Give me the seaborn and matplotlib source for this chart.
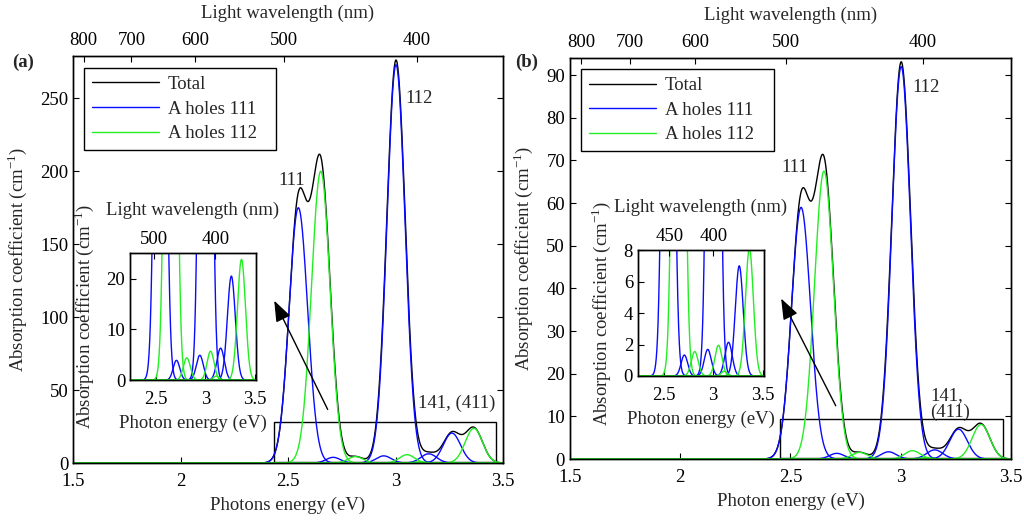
import numpy as np
import matplotlib
matplotlib.use('Agg')
import matplotlib.pyplot as plt
import matplotlib.patches as mpatches
import seaborn as sns

sns.set_style('ticks')
plt.rcParams['font.family'] = ['Liberation Serif', 'DejaVu Serif']
plt.rcParams['mathtext.fontset'] = 'custom'
plt.rcParams['mathtext.rm'] = 'Liberation Serif'
plt.rcParams['font.size'] = 13.5
plt.rcParams['xtick.direction'] = 'in'
plt.rcParams['ytick.direction'] = 'in'
plt.rcParams['xtick.major.size'] = 4
plt.rcParams['ytick.major.size'] = 4
plt.rcParams['axes.linewidth'] = 1.0
plt.rcParams['axes.edgecolor'] = 'black'
plt.rcParams['xtick.color'] = 'black'
plt.rcParams['ytick.color'] = 'black'

# single absorption bands: position (eV), width (eV), height (cm^-1)
blue_centers = [2.548, 3.002, 2.71, 2.945, 3.154, 3.262]
green_centers = [2.652, 2.814, 3.053, 3.11, 3.364]
blue_widths = [0.043, 0.042, 0.033, 0.035, 0.037, 0.040]
green_widths = [0.043, 0.035, 0.035, 0.030, 0.040]

blue_heights_a = [175, 273, 3.9, 4.9, 6.3, 20.5]
green_heights_a = [200, 4.4, 5.7, 0.8, 23.8]
blue_heights_b = [59, 92, 1.33, 1.69, 2.14, 7.0]
green_heights_b = [67.5, 1.55, 1.95, 0.3, 8.1]

wl_ticks = [800, 700, 600, 500, 400]
inset_wl_a = [500, 400]
inset_wl_b = [450, 400]
inset_wl_b_pos = [2.56, 3.0]

energy = np.linspace(1.5, 3.5, 2001)


def band(c, h, w):
    return h * np.exp(-(energy - c) ** 2 / (2 * w ** 2))


BLUE = '#0a0aff'
GREEN = '#22ee22'
ylab = 'Absorption coefficient (cm$^{-1}$)'

fig = plt.figure(figsize=(10.24, 5.2), dpi=100)

panels = [
    dict(rect=[0.0713, 0.1096, 0.42, 0.7827], inset=[0.127, 0.269, 0.123, 0.244],
         blue=blue_heights_a, green=green_heights_a, ymax=279, yticks=range(0, 251, 50),
         xlabel='Photons energy (eV)', leg=(0.0256, 0.0, 0.4465, 0.9705),
         inset_ylim=(0, 25), inset_yticks=[0, 10, 20],
         inset_top=[1240 / w for w in inset_wl_a], inset_top_lab=inset_wl_a,
         box=(2.435, 0.5, 1.032, 27.5), arrow=((2.43, 113), (2.69, 35)),
         t111=(2.519, 194), t112=(3.109, 250), t141=(3.286, 41, 'center', '141, (411)'),
         tag='(a)', tagx=0.012),
    dict(rect=[0.5566, 0.1173, 0.4307, 0.771], inset=[0.623, 0.277, 0.123, 0.242],
         blue=blue_heights_b, green=green_heights_b, ymax=94, yticks=range(0, 91, 10),
         xlabel='Photon energy (eV)', leg=(0.025, 0.0, 0.4376, 0.9726),
         inset_ylim=(0, 8), inset_yticks=[0, 2, 4, 6, 8],
         inset_top=inset_wl_b_pos, inset_top_lab=inset_wl_b,
         box=(2.452, 0.2, 1.012, 9.2), arrow=((2.452, 38.2), (2.711, 11.9)),
         t111=(2.52, 68.4), t112=(3.115, 87.1), t141=(3.133, 12.9, 'left', '141,\n(411)'),
         tag='(b)', tagx=0.503),
]

for p in panels:
    blue_bands = [band(c, h, w) for c, h, w in zip(blue_centers, p['blue'], blue_widths)]
    green_bands = [band(c, h, w) for c, h, w in zip(green_centers, p['green'], green_widths)]
    total = np.sum(blue_bands, axis=0) + np.sum(green_bands, axis=0)

    ax = fig.add_axes(p['rect'])
    sns.lineplot(x=energy, y=total, color='black', lw=1, label='Total', ax=ax)
    for i, b in enumerate(blue_bands):
        sns.lineplot(x=energy, y=b, color=BLUE, lw=1, label='A holes 111' if i == 0 else None, ax=ax)
    for i, g in enumerate(green_bands):
        sns.lineplot(x=energy, y=g, color=GREEN, lw=1, label='A holes 112' if i == 0 else None, ax=ax)
    ax.set_xlim(1.5, 3.5)
    ax.set_ylim(0, p['ymax'])
    ax.set_xticks([1.5, 2, 2.5, 3, 3.5])
    ax.set_xticklabels(['1.5', '2', '2.5', '3', '3.5'])
    ax.set_yticks(list(p['yticks']))
    ax.tick_params(axis='x', pad=7)
    ax.tick_params(axis='y', right=True)
    ax.set_xlabel(p['xlabel'], labelpad=5)
    ax.set_ylabel(ylab, labelpad=8)
    leg = ax.legend(loc='upper left', bbox_to_anchor=p['leg'], mode='expand', borderaxespad=0,
                    frameon=True, fancybox=False, edgecolor='black', framealpha=1,
                    handlelength=3.6, borderpad=0.42, labelspacing=0.4, handletextpad=0.45)
    leg.get_frame().set_linewidth(1.0)

    ax.add_patch(mpatches.Rectangle(p['box'][:2], p['box'][2], p['box'][3],
                                    fill=False, edgecolor='black', lw=1))
    ax.annotate('', xy=p['arrow'][0], xytext=p['arrow'][1],
                arrowprops=dict(arrowstyle='-|>,head_length=0.8,head_width=0.3',
                                color='black', lw=1, mutation_scale=16))
    ax.text(*p['t111'], '111', ha='center', va='center')
    ax.text(*p['t112'], '112', ha='center', va='center')
    x41, y41, ha41, s41 = p['t141']
    ax.text(x41, y41, s41, ha=ha41, va='center', linespacing=1.0)

    top = ax.twiny()
    top.set_xlim(ax.get_xlim())
    top.set_xticks([1240 / w for w in wl_ticks])
    top.set_xticklabels([str(w) for w in wl_ticks])
    top.tick_params(axis='x', pad=5)
    top.set_xlabel('Light wavelength (nm)', labelpad=10)

    fig.text(p['tagx'], 1 - 62 / 520, p['tag'], weight='bold', ha='left', va='center')

    ins = fig.add_axes(p['inset'])
    for b in blue_bands:
        sns.lineplot(x=energy, y=b, color=BLUE, lw=1, ax=ins)
    for g in green_bands:
        sns.lineplot(x=energy, y=g, color=GREEN, lw=1, ax=ins)
    ins.set_xlim(2.243, 3.51)
    ins.set_ylim(*p['inset_ylim'])
    ins.set_xticks([2.5, 3, 3.5])
    ins.set_xticklabels(['2.5', '3', '3.5'])
    ins.set_yticks(p['inset_yticks'])
    ins.tick_params(axis='x', pad=8)
    ins.set_xlabel('Photon energy (eV)', labelpad=5)
    ins.set_ylabel(ylab, labelpad=7.5)
    ins_top = ins.twiny()
    ins_top.set_xlim(ins.get_xlim())
    ins_top.set_xticks(p['inset_top'])
    ins_top.set_xticklabels([str(w) for w in p['inset_top_lab']])
    ins_top.set_xlabel('Light wavelength (nm)', labelpad=12)

fig.savefig('out.png', dpi=100)
